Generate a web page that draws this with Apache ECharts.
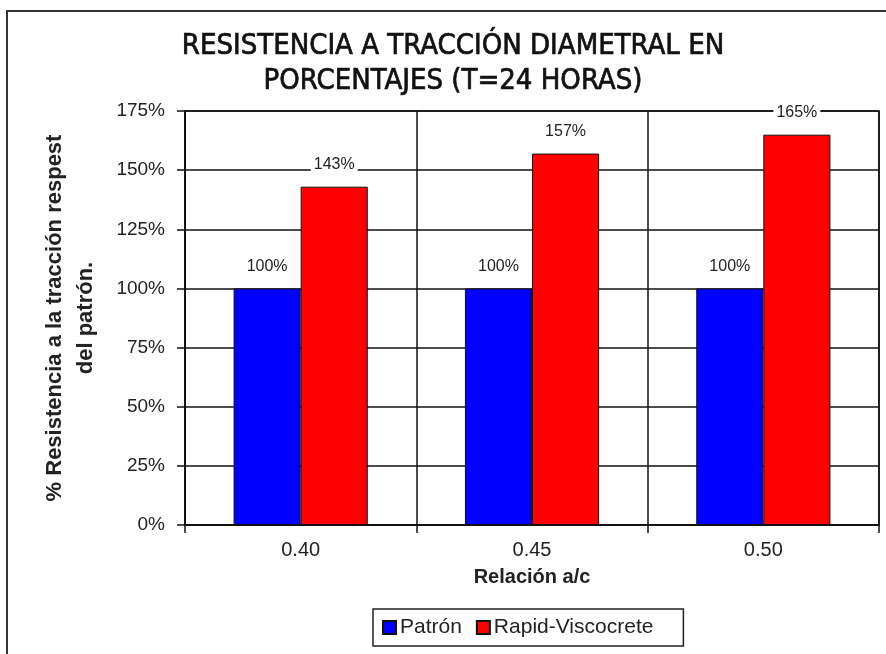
<!DOCTYPE html>
<html>
<head>
<meta charset="utf-8">
<script src="https://cdn.jsdelivr.net/npm/echarts@6/dist/echarts.min.js"></script>
<style>
  html, body { margin: 0; padding: 0; background: #fff; }
  #chart { width: 886px; height: 654px; }
</style>
</head>
<body>
<div id="chart"></div>
<script>
  // datos
  const categorias = ['0.40', '0.45', '0.50'];
  const patron = [100, 100, 100];
  const rapidViscocrete = [143, 157, 165];
  const yTicks = [0, 25, 50, 75, 100, 125, 150, 175];

  const myChart = echarts.init(document.getElementById('chart'));

  const font = 'Arial, "Liberation Sans", sans-serif';
  const label = {
    show: true,
    position: 'top',
    distance: 14,
    formatter: '{c}%',
    color: '#222',
    fontFamily: font,
    fontSize: 16,
    backgroundColor: '#fff',
    padding: [0, 3]
  };

  const options = {
    animation: false,
    backgroundColor: '#fff',
    title: {
      text: 'RESISTENCIA A TRACCIÓN DIAMETRAL EN\nPORCENTAJES (T=24 HORAS)',
      left: 453,
      top: 29,
      textAlign: 'center',
      padding: 0,
      textStyle: {
        fontFamily: '"Liberation Sans Narrow", "DejaVu Sans Condensed", sans-serif',
        fontSize: 29,
        fontWeight: 'normal',
        lineHeight: 35,
        color: '#111',
        // un poco más grueso, como el original
        textBorderColor: '#111',
        textBorderWidth: 0.7
      }
    },
    // marco exterior de la imagen
    graphic: [{
      type: 'rect',
      shape: { x: 7, y: 11, width: 920, height: 700 },
      style: { fill: 'none', stroke: '#333', lineWidth: 2 },
      silent: true
    }],
    legend: {
      left: 373,
      top: 609,
      padding: [8, 30, 8, 9],
      itemGap: 14,
      itemWidth: 13,
      itemHeight: 13,
      icon: 'rect',
      borderColor: '#222',
      borderWidth: 1.5,
      textStyle: { fontFamily: font, fontSize: 21, color: '#222', padding: [0, 0, 0, -1] },
      data: ['Patrón', 'Rapid-Viscocrete']
    },
    grid: {
      left: 185,
      top: 111,
      right: 7,
      bottom: 129,
      show: true,
      borderColor: '#111',
      borderWidth: 1.5
    },
    xAxis: {
      type: 'category',
      data: categorias,
      name: 'Relación a/c',
      nameLocation: 'middle',
      nameGap: 42,
      nameTextStyle: { fontFamily: font, fontSize: 20, fontWeight: 'bold', color: '#222' },
      axisLine: { lineStyle: { color: '#111', width: 1.5 } },
      axisTick: { show: true, length: 8, interval: 0, lineStyle: { color: '#111', width: 1.5 } },
      axisLabel: { fontFamily: font, fontSize: 20, color: '#222', margin: 15 },
      splitLine: { show: true, interval: 0, lineStyle: { color: '#111', width: 1.5 } }
    },
    yAxis: {
      type: 'value',
      min: 0,
      max: yTicks[yTicks.length - 1],
      interval: yTicks[1] - yTicks[0],
      name: '% Resistencia a la tracción respest\ndel patrón.',
      nameLocation: 'middle',
      nameRotate: 90,
      nameGap: 84,
      nameTextStyle: { fontFamily: font, fontSize: 22, fontWeight: 'bold', color: '#222', lineHeight: 31 },
      axisLine: { show: true, lineStyle: { color: '#111', width: 1.5 } },
      axisTick: { show: true, length: 8, lineStyle: { color: '#111', width: 1.5 } },
      axisLabel: { formatter: '{value}%', fontFamily: font, fontSize: 19, color: '#222', margin: 20 },
      splitLine: { show: true, lineStyle: { color: '#111', width: 1.5 } }
    },
    series: [
      {
        name: 'Patrón',
        type: 'bar',
        data: patron,
        barGap: '0%',
        barCategoryGap: '42%',
        itemStyle: { color: '#0000ff', borderColor: '#111', borderWidth: 1 },
        label: label
      },
      {
        name: 'Rapid-Viscocrete',
        type: 'bar',
        data: rapidViscocrete,
        itemStyle: { color: '#ff0000', borderColor: '#111', borderWidth: 1 },
        label: label
      }
    ]
  };

  myChart.setOption(options);
</script>
</body>
</html>
